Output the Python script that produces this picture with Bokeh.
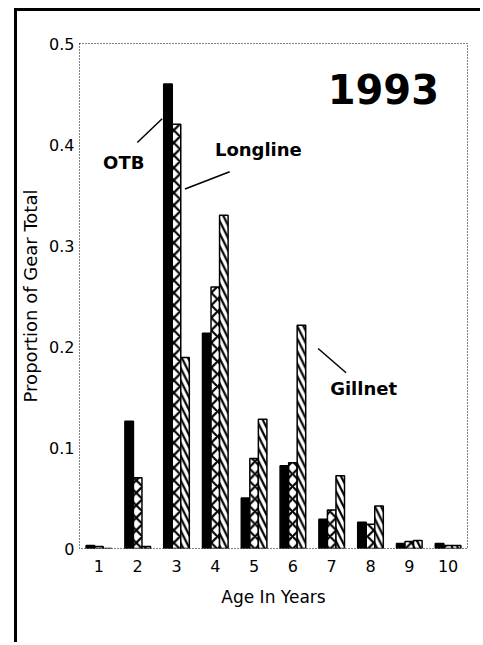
from bokeh.plotting import figure
from bokeh.models import Range1d, FixedTicker, ColumnDataSource
from bokeh.transform import dodge
from bokeh.core.properties import value
from bokeh.embed import file_html
from bokeh.resources import INLINE

# ---- data ----
ages = [1, 2, 3, 4, 5, 6, 7, 8, 9, 10]
otb = [0.003, 0.126, 0.460, 0.213, 0.050, 0.082, 0.029, 0.026, 0.005, 0.005]
longline = [0.002, 0.070, 0.420, 0.259, 0.089, 0.085, 0.038, 0.024, 0.007, 0.003]
gillnet = [0.000, 0.002, 0.189, 0.330, 0.128, 0.221, 0.072, 0.042, 0.008, 0.003]

y_ticks = [0, 0.1, 0.2, 0.3, 0.4, 0.5]
y_tick_labels = ["0", "0.1", "0.2", "0.3", "0.4", "0.5"]
x_tick_labels = ["1", "2", "3", "4", "5", "6", "7", "8", "9", "10"]

year_text = ["1993"]
year_x = [8.33]
year_y = [0.455]

gear_text = ["OTB", "Longline", "Gillnet"]
gear_x = [1.64, 3.99, 6.96]
gear_y = [0.382, 0.395, 0.158]
gear_align = ["center", "left", "left"]

lead_x0 = [1.99, 3.22, 6.65]
lead_y0 = [0.402, 0.356, 0.198]
lead_x1 = [2.63, 4.37, 7.37]
lead_y1 = [0.4255, 0.373, 0.174]

bar_w = 0.22

src = ColumnDataSource(dict(age=ages, otb=otb, longline=longline, gillnet=gillnet))

# outer scanned-page frame (left and top rules) drawn as CSS border of the figure
p = figure(width=466, height=634, output_backend="svg", toolbar_location=None,
           x_range=Range1d(0.5, 10.5), y_range=Range1d(0, 0.5),
           min_border_left=60, min_border_right=16, min_border_top=32, min_border_bottom=97)
p.styles = {"margin-left": "14px", "margin-top": "8px",
            "border-left": "3px solid black", "border-top": "3px solid black"}
p.grid.visible = False
p.background_fill_color = "white"
p.border_fill_color = "white"
p.outline_line_color = "black"
p.outline_line_dash = "1 2"
p.outline_line_width = 1

p.xaxis.ticker = FixedTicker(ticks=ages)
p.xaxis.major_label_overrides = {a: l for a, l in zip(ages, x_tick_labels)}
p.yaxis.ticker = FixedTicker(ticks=y_ticks)
p.yaxis.major_label_overrides = {t: l for t, l in zip(y_ticks, y_tick_labels)}

for ax in (p.xaxis, p.yaxis):
    ax.axis_line_color = None
    ax.major_tick_line_color = None
    ax.minor_tick_line_color = None
    ax.major_tick_out = 0
    ax.major_tick_in = 0
    ax.minor_tick_out = 0
    ax.minor_tick_in = 0
    ax.major_label_text_font = "DejaVu Sans"
    ax.major_label_text_font_size = "16px"
    ax.major_label_text_color = "black"
    ax.axis_label_text_font = "DejaVu Sans"
    ax.axis_label_text_font_style = "normal"
    ax.axis_label_text_color = "black"

p.xaxis.axis_label = "Age In Years"
p.xaxis.axis_label_text_font_size = "17px"
p.xaxis.major_label_standoff = 11
p.xaxis.axis_label_standoff = 12
p.yaxis.axis_label = "Proportion of Gear Total"
p.yaxis.axis_label_text_font_size = "18px"
p.yaxis.major_label_standoff = 5
p.yaxis.axis_label_standoff = 5

p.vbar(x=dodge("age", -bar_w, range=p.x_range), top="otb", width=bar_w, source=src,
       fill_color="black", line_color="black", line_width=1.5)
p.vbar(x=dodge("age", 0, range=p.x_range), top="longline", width=bar_w, source=src,
       fill_color="white", line_color="black", line_width=1.5,
       hatch_pattern="x", hatch_color="black", hatch_weight=2.2, hatch_scale=12.5)
p.vbar(x=dodge("age", bar_w, range=p.x_range), top="gillnet", width=bar_w, source=src,
       fill_color="white", line_color="black", line_width=1.5,
       hatch_pattern="\\", hatch_color="black", hatch_weight=2.2, hatch_scale=12.5)

p.segment(x0=lead_x0, y0=lead_y0, x1=lead_x1, y1=lead_y1, line_color="black", line_width=1.5)

p.text(x=year_x, y=year_y, text=year_text, text_font=value("DejaVu Sans"),
       text_font_style="bold", text_font_size="40px", text_align="center",
       text_baseline="middle", text_color="black")
p.text(x=gear_x, y=gear_y, text=gear_text, text_align=gear_align,
       text_font=value("DejaVu Sans"), text_font_style="bold", text_font_size="18px",
       text_baseline="middle", text_color="black")

open("out.html", "w").write(file_html(p, INLINE))
